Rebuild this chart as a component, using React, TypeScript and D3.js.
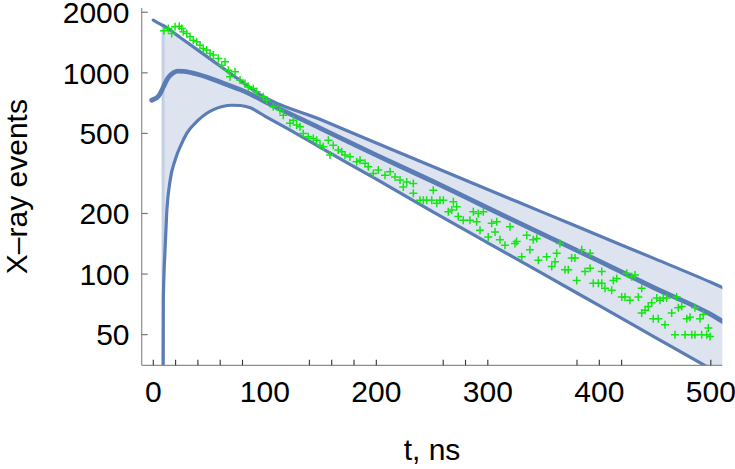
import React from "react";
import * as d3 from "d3";

// ---- curves (t in ns, value in events) ----
const T_UPPER = [0, 5, 10, 20, 40, 60, 80, 95, 150, 200, 250, 300, 350, 400, 450, 500, 511];
const V_UPPER = [1827, 1760, 1706, 1557, 1297, 1080, 899, 784, 586, 448, 343, 263, 202, 155, 119, 91, 85.5];

const T_FIT = [-1.4, 0, 3, 6, 9, 13.5, 18, 22, 27, 42, 60, 78, 87, 100, 150, 200, 250, 300, 350, 400, 450, 500, 511];
const V_FIT = [731, 737, 750, 785, 850, 949, 1000, 1020, 1018, 975, 900, 825, 784, 720, 530, 390, 290, 213, 157, 116, 85, 63, 58];

const T_LOWER = [8.8, 9, 10.5, 12, 15, 19.5, 25, 30, 40, 48, 55, 62, 70, 78, 87, 100, 120, 150, 200, 250, 300, 350, 400, 450, 500, 512];
const V_LOWER = [30, 74, 131, 200, 290, 368, 440, 500, 580, 630, 660, 680, 690, 688, 670, 610, 530, 425, 296, 205, 143, 100, 69.6, 48.5, 33.8, 31];

const BAND_START = 8.8;

// ---- measured data (green crosses) ----
const DATA_T = [
  9.6, 13.5, 16.5, 19.5, 23.3, 25.5, 26.9, 30.0, 32.9, 35.9, 38.9, 41.9, 44.8, 47.9, 50.9, 53.8, 58.3, 61.3, 64.3, 67.3, 68.8, 73.3, 77.8, 82.2, 85.2, 89.7, 92.7,
  98.7, 101.7, 107.6, 113.6, 116.6, 122.6, 125.6, 128.6, 131.6,
  134.5, 139.0, 143.5, 146.5, 149.5, 152.5, 157.0, 158.5, 161.4, 165.9, 169.0, 171.9, 176.4, 182.4, 185.4, 189.9, 192.8, 197.3, 201.8,
  207.8, 212.3, 216.8, 221.3,
  224.2, 227.3, 233.2, 233.2, 239.2, 242.2, 245.2, 249.7, 251.1, 254.2, 257.1, 260.1, 264.6, 267.6, 269.1, 272.1, 273.5, 278.0, 284.0, 287.0, 290.0, 291.5, 293.0, 296.0, 300.4, 303.5, 306.5, 308.0, 310.9, 315.4, 319.9, 324.4, 325.9, 330.4, 334.9, 337.8, 340.8, 343.9, 345.3, 352.8, 357.3, 360.3, 361.8, 364.7,
  369.2, 372.2, 375.2, 378.2, 379.7, 384.2, 387.2, 391.7, 391.7, 394.6, 399.1, 402.2, 402.2, 405.1, 411.1, 412.6, 415.6, 420.1, 423.0, 424.6, 427.5, 429.1, 432.0, 435.0, 438.0, 438.0, 441.0, 443.9, 447.0, 448.4, 451.5, 452.9, 454.4, 457.4, 458.9, 460.4, 464.9, 467.9, 469.4, 470.9, 473.9, 476.9, 478.4, 481.3, 482.9, 485.8, 485.8, 490.3, 491.8, 493.3, 496.3, 497.8, 499.3,
];
const DATA_N = [
  1617, 1662, 1570, 1693, 1706, 1662, 1599, 1570, 1510, 1454, 1426, 1373, 1322, 1297, 1249, 1225, 1179, 1092, 1134, 1031, 955, 1012, 920, 886, 852, 837, 805,
  760, 732, 678, 653, 616, 561, 582, 550, 539,
  500, 481, 472, 463, 437, 429, 463, 390, 437, 413, 405, 390, 383, 361, 368, 355, 341, 316, 329,
  310, 322, 304, 293,
  271, 287, 282, 252, 233, 233, 233, 233, 261, 225, 233, 233, 204, 208, 229, 216, 193, 185, 185, 204, 182, 200, 165, 204, 153, 179, 162, 182, 148, 139, 172, 142, 145, 122, 156, 132, 148, 150, 117, 122, 109, 115, 127, 142,
  105, 105, 120, 120, 93, 132, 103, 127, 107, 90, 90, 90, 103, 85, 83, 93, 95, 77, 77, 101, 74, 97, 99, 77, 85, 64, 66, 69, 72, 60, 76, 60, 74, 76, 56, 76, 64, 50, 77, 68, 69, 50, 60, 61, 50, 68, 50, 60, 50, 63, 50, 54, 49,
];

// ---- axes ----
const X_MINOR_TICKS = [0, 20, 40, 60, 80, 140, 160, 180, 200, 260, 280, 300, 380, 400, 420, 500];
const X_LABELS = [0, 100, 200, 300, 400, 500];
const Y_TICKS = [50, 100, 200, 500, 1000, 2000];
const X_DOMAIN: [number, number] = [-10.4, 510.3];
const Y_DOMAIN: [number, number] = [35.2, 2100];
const X_TITLE = "t, ns";
const Y_TITLE = "X\u2013ray events";

const W = 735;
const H = 469;
const LEFT = 141.7;
const RIGHT = 722.3;
const TOP = 8;
const BOTTOM = 365.3;

const BLUE = "#5b7db5";
const FILL = "#dde4f0";
const GREEN = "#14e614";
const FONT = "'Liberation Sans', Arial, Helvetica, sans-serif";
const FS = 30;

type P = [number, number];

export default function App() {
  const x = d3.scaleLinear().domain(X_DOMAIN).range([LEFT, RIGHT]);
  const y = d3.scaleLog().domain(Y_DOMAIN).range([BOTTOM, TOP]);

  const upper: P[] = T_UPPER.map((t, i) => [t, V_UPPER[i]]);
  const fit: P[] = T_FIT.map((t, i) => [t, V_FIT[i]]);
  const lower: P[] = T_LOWER.map((t, i) => [t, V_LOWER[i]]);

  const line = d3
    .line<P>()
    .x((d) => x(d[0]))
    .y((d) => y(d[1]))
    .curve(d3.curveMonotoneX);

  const logU = d3.scaleLinear().domain(T_UPPER).range(V_UPPER.map((v) => Math.log(v)));
  const uStart = Math.exp(logU(BAND_START));
  const upperBand: P[] = [[BAND_START, uStart], ...upper.filter((d) => d[0] > BAND_START)];

  const areaUnderUpper = d3
    .area<P>()
    .x((d) => x(d[0]))
    .y0(BOTTOM + 40)
    .y1((d) => y(d[1]))
    .curve(d3.curveMonotoneX);

  const areaUnderLower = d3
    .area<P>()
    .x((d) => x(d[0]))
    .y0(BOTTOM + 80)
    .y1((d) => y(d[1]))
    .curve(d3.curveMonotoneX);

  const points: P[] = DATA_T.map((t, i) => [t, DATA_N[i]]);
  const xs = x(BAND_START);

  return (
    <svg
      width={W}
      height={H}
      viewBox={`0 0 ${W} ${H}`}
      style={{ position: "absolute", left: 0, top: 0, background: "#fff" }}
      fontFamily={FONT}
    >
      <defs>
        <clipPath id="plot">
          <rect x={LEFT} y={0} width={RIGHT - LEFT} height={BOTTOM} />
        </clipPath>
        <mask id="band">
          <rect x={0} y={0} width={W} height={H} fill="#fff" />
          <path d={areaUnderLower(lower) || ""} fill="#000" />
        </mask>
      </defs>

      <g clipPath="url(#plot)">
        <g mask="url(#band)">
          <path d={areaUnderUpper(upperBand) || ""} fill={FILL} />
        </g>
        <line x1={xs} x2={xs} y1={y(uStart)} y2={BOTTOM} stroke="#c3cfe4" strokeWidth={3} />
        <path d={line(upper) || ""} fill="none" stroke={BLUE} strokeWidth={3.2} strokeLinecap="round" />
        <path d={line(lower) || ""} fill="none" stroke={BLUE} strokeWidth={3.2} strokeLinecap="round" />
        <path d={line(fit) || ""} fill="none" stroke={BLUE} strokeWidth={4.8} strokeLinecap="round" />
        {points.map((d, i) => (
          <path
            key={i}
            d={`M${x(d[0]) - 4},${y(d[1])}H${x(d[0]) + 4}M${x(d[0])},${y(d[1]) - 4}V${y(d[1]) + 4}`}
            stroke={GREEN}
            strokeWidth={1.5}
            fill="none"
          />
        ))}
      </g>

      {/* axes */}
      <line x1={LEFT} x2={LEFT} y1={TOP} y2={BOTTOM} stroke="#8c8c8c" strokeWidth={1.2} />
      <line x1={LEFT} x2={RIGHT} y1={BOTTOM} y2={BOTTOM} stroke="#8c8c8c" strokeWidth={1.2} />
      {Y_TICKS.map((v) => (
        <g key={v}>
          <line x1={LEFT} x2={LEFT + 6} y1={y(v)} y2={y(v)} stroke="#777" strokeWidth={1.2} />
          <text x={129.5} y={y(v) + 10.8} textAnchor="end" fontSize={FS} fill="#000">
            {v}
          </text>
        </g>
      ))}
      {X_MINOR_TICKS.map((t) => (
        <line key={t} x1={x(t)} x2={x(t)} y1={BOTTOM} y2={BOTTOM - 5.5} stroke="#333" strokeWidth={1.1} />
      ))}
      {X_LABELS.map((t) => (
        <text key={t} x={x(t)} y={402} textAnchor="middle" fontSize={FS} fill="#000">
          {t}
        </text>
      ))}
      <text x={(LEFT + RIGHT) / 2} y={460} textAnchor="middle" fontSize={FS} fill="#000">
        {X_TITLE}
      </text>
      <text
        transform={`translate(26.5, ${(TOP + BOTTOM) / 2}) rotate(-90)`}
        textAnchor="middle"
        fontSize={FS}
        fill="#000"
      >
        {Y_TITLE}
      </text>
    </svg>
  );
}
